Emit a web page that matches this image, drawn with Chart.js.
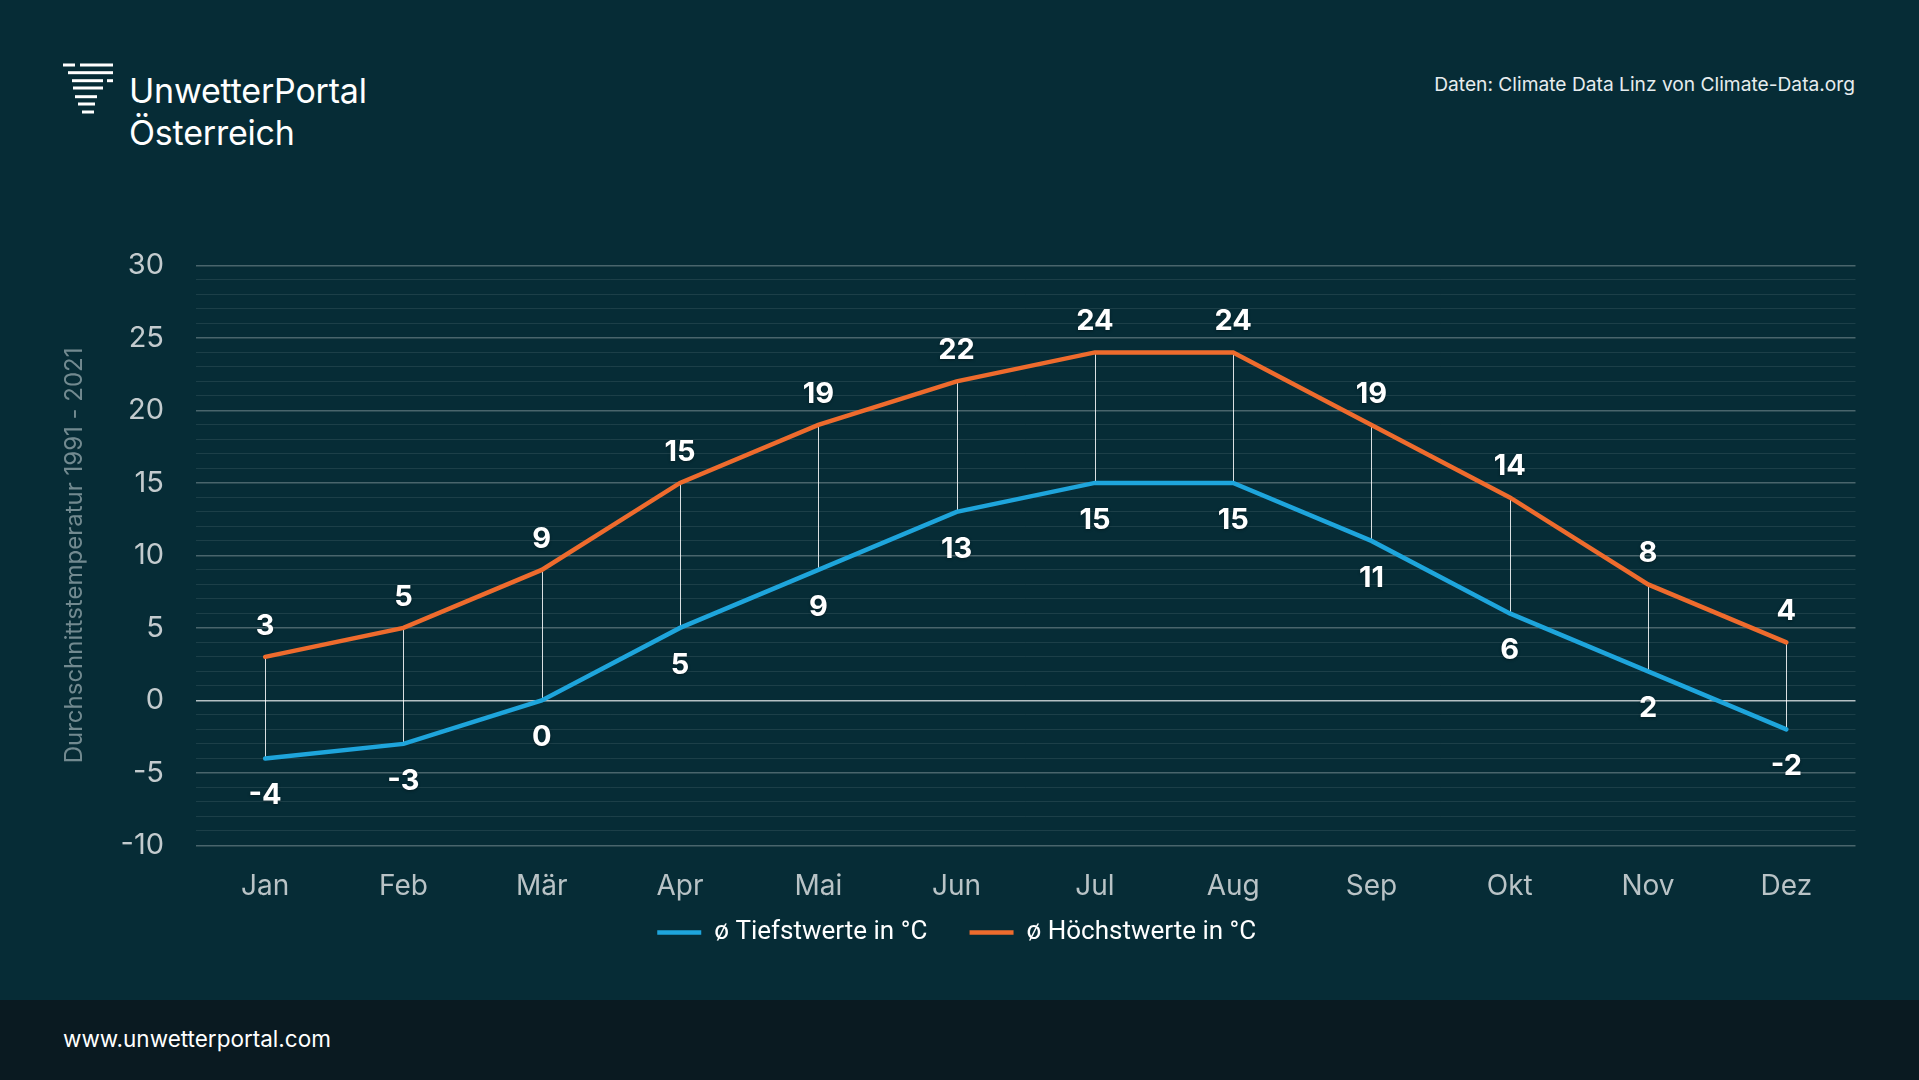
<!DOCTYPE html>
<html lang="de">
<head>
<meta charset="utf-8">
<title>Linz Klima</title>
<script src="https://cdn.jsdelivr.net/npm/chart.js@4.4.1/dist/chart.umd.min.js"></script>
<style>
  html, body { margin:0; padding:0; }
  body { width:1919px; height:1080px; background:#062c36; position:relative; overflow:hidden; font-family:Inter, "Noto Sans", sans-serif; }
  .logo { position:absolute; left:62px; top:62px; }
  .brand { position:absolute; left:129px; top:70px; color:#fff; font-size:34px; line-height:42px; font-weight:400; letter-spacing:-0.2px; }
  .source { position:absolute; right:64px; top:72px; color:#e6ecee; font-size:19.2px; }
  .footer { position:absolute; left:0; top:1000px; width:1919px; height:80px; background:#0a1a21; }
  .footer span { position:absolute; left:63px; top:25px; color:#fff; font-size:22.5px; }
  .chart-wrap { position:absolute; left:0; top:216px; width:1919px; height:764px; }
</style>
</head>
<body>
  <svg class="logo" width="56" height="56" viewBox="0 0 56 56">
    <g fill="#fff">
      <rect x="1" y="1.5" width="12" height="3"/>
      <rect x="18" y="1.5" width="33" height="3"/>
      <rect x="6" y="9.2" width="45" height="3"/>
      <rect x="10" y="17.2" width="31" height="3"/>
      <rect x="45" y="17.2" width="6" height="3"/>
      <rect x="11" y="24.5" width="30" height="3"/>
      <rect x="13" y="33.2" width="22" height="3"/>
      <rect x="16" y="40.5" width="17" height="3"/>
      <rect x="20" y="48.5" width="12" height="3"/>
    </g>
  </svg>
  <div class="brand">UnwetterPortal<br>Österreich</div>
  <div class="source">Daten: Climate Data Linz von Climate-Data.org</div>

  <div class="chart-wrap"><canvas id="myChart"></canvas></div>

  <div class="footer"><span>www.unwetterportal.com</span></div>

<script>
  // Data
  const MONTHS = ["Jan","Feb","Mär","Apr","Mai","Jun","Jul","Aug","Sep","Okt","Nov","Dez"];
  const LOWS   = [-4, -3, 0, 5, 9, 13, 15, 15, 11, 6, 2, -2];
  const HIGHS  = [3, 5, 9, 15, 19, 22, 24, 24, 19, 14, 8, 4];
  const Y_MIN = -10, Y_MAX = 30;

  const BLUE = '#1ea5dc';
  const ORANGE = '#ee6b2d';

  // thin connector between low and high of each month
  const dropLines = {
    id: 'dropLines',
    beforeDatasetsDraw(chart){
      const lo = chart.getDatasetMeta(0).data;
      const hi = chart.getDatasetMeta(1).data;
      const ctx = chart.ctx;
      ctx.save();
      ctx.strokeStyle = 'rgba(255,255,255,0.85)';
      ctx.lineWidth = 1;
      lo.forEach((p, i) => {
        if(!hi[i]) return;
        const x = Math.round(p.x) + 0.5;
        ctx.beginPath();
        ctx.moveTo(x, p.y);
        ctx.lineTo(x, hi[i].y);
        ctx.stroke();
      });
      ctx.restore();
    }
  };

  // value labels: highs above, lows below
  const valueLabels = {
    id: 'valueLabels',
    afterDatasetsDraw(chart){
      const ctx = chart.ctx;
      ctx.save();
      ctx.font = 'bold 29px Inter, "Noto Sans", sans-serif';
      ctx.fillStyle = '#ffffff';
      ctx.textAlign = 'center';
      ctx.textBaseline = 'middle';
      ctx.shadowColor = 'rgba(0,0,0,0.35)';
      ctx.shadowBlur = 3;
      ctx.shadowOffsetY = 1;
      chart.data.datasets.forEach((ds, di) => {
        const meta = chart.getDatasetMeta(di);
        meta.data.forEach((pt, i) => {
          const off = di === 1 ? -31 : 37;
          ctx.fillText(String(ds.data[i]), pt.x, pt.y + off);
        });
      });
      ctx.restore();
    }
  };

  const ctx = document.getElementById('myChart').getContext('2d');
  new Chart(ctx, {
    type: 'line',
    data: {
      labels: MONTHS,
      datasets: [
        { label: 'ø Tiefstwerte in °C', data: LOWS, borderColor: BLUE, backgroundColor: BLUE,
          borderWidth: 4.5, pointRadius: 0, borderCapStyle: 'round', tension: 0 },
        { label: 'ø Höchstwerte in °C', data: HIGHS, borderColor: ORANGE, backgroundColor: ORANGE,
          borderWidth: 4.5, pointRadius: 0, borderCapStyle: 'round', tension: 0 }
      ]
    },
    options: {
      responsive: true,
      maintainAspectRatio: false,
      animation: false,
      layout: { padding: { left: 58, right: 63.5, top: 40.6, bottom: 24.6 } },
      plugins: {
        legend: {
          position: 'bottom',
          labels: {
            color: '#ffffff',
            font: { family: 'Roboto, Inter, sans-serif', size: 26 },
            usePointStyle: true,
            pointStyle: 'line',
            pointStyleWidth: 44,
            padding: 10,
            // wider gap between the two items without a tall legend box
            generateLabels(chart){
              const items = Chart.defaults.plugins.legend.labels.generateLabels(chart);
              items.forEach((it, i) => { if(i < items.length - 1) it.text += '     '; });
              return items;
            }
          }
        },
        tooltip: { enabled: false }
      },
      scales: {
        x: {
          offset: true,
          grid: { display: false, offset: true },
          border: { display: false },
          ticks: { color: '#b9c3c6', font: { family: 'Inter, sans-serif', size: 28 }, padding: 16 },
          afterFit(scale){ scale.height = 64; }
        },
        y: {
          min: Y_MIN, max: Y_MAX,
          border: { display: false },
          grid: {
            drawTicks: false,
            color: c => c.tick.value === 0 ? 'rgba(255,255,255,0.7)'
                      : (c.tick.value % 5 === 0 ? 'rgba(255,255,255,0.27)' : 'rgba(255,255,255,0.09)'),
            lineWidth: c => c.tick.value % 5 === 0 ? 1.6 : 1
          },
          ticks: {
            stepSize: 1,
            autoSkip: false,
            color: '#c3cbce',
            font: { family: 'Inter, sans-serif', size: 29 },
            padding: 32,
            callback: v => v % 5 === 0 ? v : ''
          },
          title: {
            display: true,
            text: 'Durchschnittstemperatur 1991 - 2021',
            color: '#728a90',
            font: { family: 'Inter, sans-serif', size: 24 },
            padding: 2
          },
          afterFit(scale){ scale.width = 196 - 58; }
        }
      }
    },
    plugins: [dropLines, valueLabels]
  });
</script>
</body>
</html>
